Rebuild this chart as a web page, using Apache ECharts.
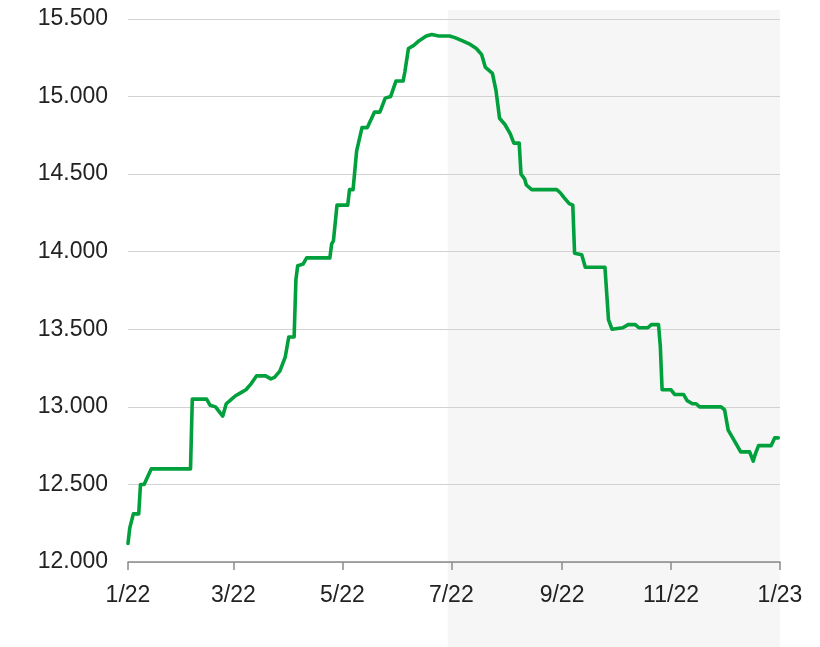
<!DOCTYPE html>
<html>
<head>
<meta charset="utf-8">
<script src="https://cdn.jsdelivr.net/npm/echarts@6/dist/echarts.min.js"></script>
<style>
  html, body { margin: 0; padding: 0; background: #fff; }
  #main { width: 820px; height: 647px; }
</style>
</head>
<body>
<div id="main"></div>
<script>
// dates and values
const dates = [
  '2022-01-01', '2022-01-02', '2022-01-04', '2022-01-07', '2022-01-08', '2022-01-10', '2022-01-14',
  '2022-02-05', '2022-02-06', '2022-02-14', '2022-02-16', '2022-02-19', '2022-02-23', '2022-02-25',
  '2022-02-28', '2022-03-02', '2022-03-05', '2022-03-08', '2022-03-11', '2022-03-14', '2022-03-19',
  '2022-03-22', '2022-03-24', '2022-03-27', '2022-03-30', '2022-04-01', '2022-04-04', '2022-04-05',
  '2022-04-06', '2022-04-09', '2022-04-11', '2022-04-24', '2022-04-25', '2022-04-26', '2022-04-28',
  '2022-05-04', '2022-05-05', '2022-05-07', '2022-05-09', '2022-05-12', '2022-05-15', '2022-05-19',
  '2022-05-22', '2022-05-25', '2022-05-28', '2022-05-31', '2022-06-04', '2022-06-05', '2022-06-07',
  '2022-06-10', '2022-06-13', '2022-06-17', '2022-06-20', '2022-06-24', '2022-06-30', '2022-07-03',
  '2022-07-07', '2022-07-11', '2022-07-15', '2022-07-18', '2022-07-20', '2022-07-24', '2022-07-26',
  '2022-07-28', '2022-07-31', '2022-08-03', '2022-08-05', '2022-08-08', '2022-08-09', '2022-08-11',
  '2022-08-12', '2022-08-15', '2022-08-29', '2022-08-31', '2022-09-02', '2022-09-05', '2022-09-07',
  '2022-09-08', '2022-09-09', '2022-09-12', '2022-09-14', '2022-09-25', '2022-09-26', '2022-09-27',
  '2022-09-29', '2022-10-05', '2022-10-08', '2022-10-12', '2022-10-14', '2022-10-19', '2022-10-21',
  '2022-10-25', '2022-10-26', '2022-10-27', '2022-11-01', '2022-11-03', '2022-11-08', '2022-11-10',
  '2022-11-13', '2022-11-15', '2022-11-17', '2022-11-29', '2022-12-01', '2022-12-03', '2022-12-06',
  '2022-12-10', '2022-12-15', '2022-12-17', '2022-12-18', '2022-12-20', '2022-12-27', '2022-12-29',
  '2022-12-31'
];
const values = [
  12.12, 12.22, 12.31, 12.31, 12.50, 12.50, 12.60,
  12.60, 13.05, 13.05, 13.01, 13.00, 12.94, 13.02,
  13.05, 13.07, 13.09, 13.11, 13.15, 13.20, 13.20,
  13.18, 13.19, 13.23, 13.32, 13.45, 13.45, 13.82,
  13.91, 13.92, 13.96, 13.96, 14.05, 14.07, 14.30,
  14.30, 14.40, 14.40, 14.65, 14.80, 14.80, 14.90,
  14.90, 14.99, 15.00, 15.10, 15.10, 15.16, 15.31,
  15.33, 15.36, 15.39, 15.40, 15.39, 15.39, 15.38,
  15.36, 15.34, 15.31, 15.27, 15.19, 15.15, 15.04,
  14.86, 14.82, 14.76, 14.70, 14.70, 14.50, 14.47,
  14.43, 14.40, 14.40, 14.38, 14.35, 14.31, 14.30,
  13.99, 13.98, 13.98, 13.90, 13.90, 13.73, 13.56,
  13.50, 13.51, 13.53, 13.53, 13.51, 13.51, 13.53,
  13.53, 13.39, 13.11, 13.11, 13.08, 13.08, 13.04,
  13.02, 13.02, 13.00, 13.00, 12.98, 12.85, 12.79,
  12.71, 12.71, 12.65, 12.69, 12.75, 12.75, 12.80,
  12.80
];

// x axis ticks
const tickDates = ['2022-01-01', '2022-03-01', '2022-05-01', '2022-07-01', '2022-09-01', '2022-11-01', '2023-01-01'];
const tickLabels = ['1/22', '3/22', '5/22', '7/22', '9/22', '11/22', '1/23'];

// shaded period (second half of the year)
const shadeStart = '2022-06-29';
const shadeEnd = '2023-01-01';

function ts(s) {
    const p = s.split('-').map(Number);
    return new Date(p[0], p[1] - 1, p[2]).getTime();
}
const tickTs = tickDates.map(ts);

const font = 'Liberation Sans, Arial, sans-serif';

const chart = echarts.init(document.getElementById('main'), null, {renderer: 'canvas'});

chart.setOption({
    animation: false,
    grid: {
        left: 128,
        right: 40,
        top: 19,
        bottom: 85
    },
    xAxis: {
        type: 'value',
        min: tickTs[0],
        max: tickTs[tickTs.length - 1],
        axisLine: {show: true, lineStyle: {color: '#8a8a8a', width: 1.5}},
        axisTick: {show: true, length: 8, lineStyle: {color: '#8a8a8a', width: 1.5}, customValues: tickTs},
        axisLabel: {
            customValues: tickTs,
            margin: 22,
            color: '#222',
            fontSize: 23,
            fontFamily: font,
            formatter: function (v) {
                const i = tickTs.indexOf(v);
                return i >= 0 ? tickLabels[i] : '';
            }
        },
        splitLine: {show: false}
    },
    yAxis: {
        type: 'value',
        min: 12,
        max: 15.5,
        interval: 0.5,
        axisLine: {show: false},
        axisTick: {show: false},
        axisLabel: {
            margin: 20,
            color: '#222',
            fontSize: 23,
            fontFamily: font,
            formatter: v => v.toFixed(3)
        },
        splitLine: {lineStyle: {color: '#d2d2d2', width: 1.2}}
    },
    series: [{
        type: 'line',
        data: dates.map((d, i) => [ts(d), values[i]]),
        showSymbol: false,
        clip: false,
        lineStyle: {color: '#00a03c', width: 3.6, join: 'round', cap: 'round'},
        itemStyle: {color: '#00a03c'},
        z: 5
    }]
});

// grey background band for the shaded period, placed through the axis scales
const p0 = chart.convertToPixel({xAxisIndex: 0, yAxisIndex: 0}, [ts(shadeStart), 15.558]);
const p1 = chart.convertToPixel({xAxisIndex: 0, yAxisIndex: 0}, [ts(shadeEnd), 12]);
chart.setOption({
    graphic: [{
        type: 'rect',
        z: -10,
        silent: true,
        shape: {x: p0[0], y: p0[1], width: p1[0] - p0[0], height: chart.getHeight() - p0[1]},
        style: {fill: '#f6f6f6'}
    }]
});
</script>
</body>
</html>
